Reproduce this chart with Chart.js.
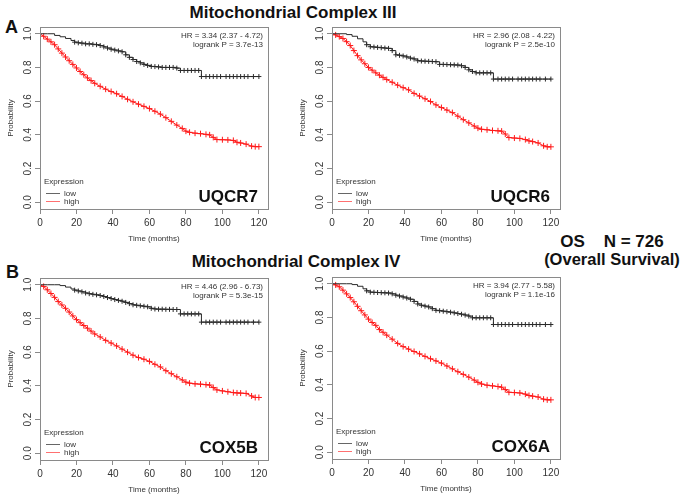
<!DOCTYPE html>
<html>
<head>
<meta charset="utf-8">
<script src="https://cdn.jsdelivr.net/npm/chart.js@4.4.0/dist/chart.umd.min.js"></script>
<style>
  body { margin: 0; background: #fff; font-family: 'Liberation Sans', Arial, sans-serif; }
  #page { position: relative; width: 680px; height: 495px; overflow: hidden; background: #fff; }
  .panel { position: absolute; width: 281px; height: 237px; }
  .txt { position: absolute; font-weight: bold; color: #111; line-height: 1; white-space: pre; }
</style>
</head>
<body>
<div id="page">
  <div class="txt" style="left:0;width:586px;text-align:center;top:4px;font-size:17px;">Mitochondrial Complex III</div>
  <div class="txt" style="left:5px;top:18px;font-size:18px;">A</div>
  <div class="txt" style="left:0;width:592px;text-align:center;top:253px;font-size:17px;">Mitochondrial Complex IV</div>
  <div class="txt" style="left:6px;top:263px;font-size:18px;">B</div>
  <div class="txt" style="left:540px;width:144px;text-align:center;top:233px;font-size:17px;">OS    N = 726</div>
  <div class="txt" style="left:540px;width:144px;text-align:center;top:251px;font-size:16.5px;">(Overall Survival)</div>

  <div class="panel" style="left:-5px;top:17px;"><canvas id="km1" width="281" height="237"></canvas></div>
  <div class="panel" style="left:287px;top:17px;"><canvas id="km2" width="281" height="237"></canvas></div>
  <div class="panel" style="left:-5px;top:268px;"><canvas id="km3" width="281" height="237"></canvas></div>
  <div class="panel" style="left:287px;top:267px;"><canvas id="km4" width="281" height="237"></canvas></div>
</div>
<script>
// axis ticks
const TIME_TICKS = [0, 20, 40, 60, 80, 100, 120];
const PROB_TICKS = [0, 0.2, 0.4, 0.6, 0.8, 1.0];

// panel labels
const GENES = ['UQCR7', 'UQCR6', 'COX5B', 'COX6A'];
const HR_LABELS = ['HR = 3.34 (2.37 - 4.72)', 'HR = 2.96 (2.08 - 4.22)', 'HR = 4.46 (2.96 - 6.73)', 'HR = 3.94 (2.77 - 5.58)'];
const LOGRANK_LABELS = ['logrank P = 3.7e-13', 'logrank P = 2.5e-10', 'logrank P = 5.3e-15', 'logrank P = 1.1e-16'];
const GROUPS = ['low', 'high'];

// time points (months)
const LOW_TIMES = [0, 4, 8, 11, 14, 17, 19, 21, 23, 25, 27, 29, 31, 33, 35, 37, 39, 41, 43, 45, 47, 49, 51, 53, 55, 57, 59, 61, 63, 65, 67, 69, 71, 73, 75, 77, 79, 81, 83, 85, 87, 88.5, 91, 93, 95, 97, 99, 102, 104, 106, 108, 110, 112, 114, 117, 120];
const HIGH_TIMES = [0, 2, 4, 6, 8, 10, 12, 14, 16, 18, 20, 22, 24, 26, 28, 30, 33, 36, 39, 42, 45, 48, 51, 54, 57, 60, 63, 66, 69, 72, 75, 78, 80, 82, 85, 88, 91, 93, 95, 97, 100, 103, 106, 108, 110, 113, 116, 118, 120];

// survival probability, low expression
const UQCR7_LOW = [1.0, 1.0, 0.99, 0.982, 0.972, 0.96, 0.95,
  0.946, 0.944, 0.94, 0.94, 0.937, 0.935, 0.93, 0.922, 0.915, 0.908, 0.903, 0.898, 0.893, 0.875, 0.86, 0.847, 0.835, 0.827, 0.818, 0.812, 0.806, 0.805, 0.803, 0.80, 0.80, 0.80, 0.80, 0.796, 0.782, 0.782, 0.782, 0.782, 0.782, 0.782,
  0.746, 0.746, 0.746, 0.746, 0.746, 0.746, 0.746, 0.746, 0.746, 0.746, 0.746, 0.746, 0.746, 0.746, 0.746];
const UQCR6_LOW = [1.0, 1.0, 0.995, 0.985, 0.97, 0.952, 0.935,
  0.923, 0.921, 0.919, 0.917, 0.915, 0.913, 0.9, 0.875, 0.872, 0.868, 0.862, 0.855, 0.85, 0.84, 0.838, 0.837, 0.836, 0.835, 0.834, 0.818, 0.818, 0.817, 0.816, 0.815, 0.814, 0.81, 0.8, 0.786, 0.776, 0.768, 0.768, 0.768, 0.768, 0.768,
  0.731, 0.731, 0.731, 0.731, 0.731, 0.731, 0.731, 0.731, 0.731, 0.731, 0.731, 0.731, 0.731, 0.731, 0.731];
const COX5B_LOW = [1.0, 1.0, 1.0, 0.995, 0.986, 0.975, 0.968,
  0.963, 0.958, 0.951, 0.947, 0.943, 0.94, 0.936, 0.93, 0.924, 0.918, 0.912, 0.907, 0.902, 0.895, 0.888, 0.881, 0.878, 0.875, 0.872, 0.869, 0.86, 0.856, 0.855, 0.855, 0.854, 0.854, 0.853, 0.853, 0.827, 0.827, 0.827, 0.827, 0.827, 0.827,
  0.778, 0.778, 0.778, 0.778, 0.778, 0.778, 0.778, 0.778, 0.778, 0.778, 0.778, 0.778, 0.778, 0.778, 0.778];
const COX6A_LOW = [1.0, 1.0, 1.0, 0.995, 0.985, 0.97, 0.958,
  0.95, 0.949, 0.948, 0.947, 0.946, 0.945, 0.94, 0.932, 0.927, 0.921, 0.915, 0.908, 0.895, 0.88, 0.872, 0.867, 0.862, 0.852, 0.842, 0.84, 0.837, 0.834, 0.831, 0.827, 0.823, 0.819, 0.814, 0.808, 0.798, 0.798, 0.798, 0.798, 0.798, 0.798,
  0.758, 0.758, 0.758, 0.758, 0.758, 0.758, 0.758, 0.758, 0.758, 0.758, 0.758, 0.758, 0.758, 0.758, 0.758];

// survival probability, high expression
const UQCR7_HIGH = [1.0, 0.985, 0.968, 0.952, 0.935, 0.91, 0.885, 0.862, 0.84, 0.818, 0.797, 0.776, 0.757, 0.738, 0.722, 0.706,
  0.688, 0.671, 0.657, 0.644, 0.628, 0.611, 0.596, 0.582, 0.569, 0.556, 0.54, 0.523, 0.502, 0.48, 0.458, 0.438,
  0.422, 0.415, 0.41, 0.407, 0.403, 0.4, 0.385, 0.372, 0.371, 0.37, 0.367, 0.356, 0.352, 0.345, 0.333, 0.33, 0.33];
const UQCR6_HIGH = [1.0, 0.993, 0.983, 0.972, 0.953, 0.93, 0.9, 0.87, 0.845, 0.822, 0.8, 0.784, 0.768, 0.754, 0.741, 0.728,
  0.712, 0.695, 0.68, 0.667, 0.646, 0.63, 0.614, 0.598, 0.578, 0.562, 0.547, 0.532, 0.511, 0.49, 0.471, 0.452,
  0.44, 0.433, 0.43, 0.426, 0.424, 0.422, 0.405, 0.384, 0.381, 0.379, 0.372, 0.364, 0.36, 0.352, 0.335, 0.329, 0.329];
const COX5B_HIGH = [1.0, 0.99, 0.97, 0.948, 0.925, 0.9, 0.88, 0.86, 0.838, 0.815, 0.793, 0.775, 0.758, 0.742, 0.725, 0.708,
  0.69, 0.67, 0.654, 0.637, 0.618, 0.6, 0.582, 0.568, 0.558, 0.545, 0.528, 0.512, 0.49, 0.472, 0.454, 0.435,
  0.422, 0.416, 0.412, 0.41, 0.407, 0.405, 0.39, 0.376, 0.37, 0.365, 0.36, 0.358, 0.357, 0.355, 0.34, 0.331, 0.331];
const COX6A_HIGH = [1.0, 0.993, 0.982, 0.962, 0.94, 0.918, 0.893, 0.866, 0.84, 0.815, 0.79, 0.77, 0.753, 0.728, 0.712, 0.695,
  0.671, 0.646, 0.627, 0.612, 0.598, 0.584, 0.569, 0.555, 0.542, 0.529, 0.512, 0.495, 0.478, 0.462, 0.446, 0.428,
  0.415, 0.405, 0.398, 0.394, 0.39, 0.386, 0.372, 0.356, 0.354, 0.352, 0.345, 0.337, 0.333, 0.328, 0.315, 0.311, 0.311];

const LOW_COLOR = '#2b2b2b';
const HIGH_COLOR = '#ff1a1a';
const LEGEND_COLORS = ['#666666', '#ff7070'];
const FONT = "'Liberation Sans', Arial, sans-serif";
const CENSOR_FROM = 19;

function kmDecor(idx) {
    return {
        id: 'kmDecor' + idx,
        afterDraw(chart) {
            const ctx = chart.ctx;
            const a = chart.chartArea;
            const yScale = chart.scales.y;
            ctx.save();

            // box around the plot
            ctx.strokeStyle = '#8a8a8a';
            ctx.lineWidth = 1;
            ctx.strokeRect(Math.round(a.left) + 0.5, Math.round(a.top) + 0.5, Math.round(a.right - a.left), Math.round(a.bottom - a.top));

            // y tick labels, rotated like R
            ctx.fillStyle = '#333';
            ctx.font = '10px ' + FONT;
            ctx.textAlign = 'center';
            ctx.textBaseline = 'middle';
            PROB_TICKS.forEach(v => {
                ctx.save();
                ctx.translate(a.left - 12, yScale.getPixelForValue(v));
                ctx.rotate(-Math.PI / 2);
                ctx.fillText(v.toFixed(1), 0, 0);
                ctx.restore();
            });

            // axis titles
            ctx.font = '8px ' + FONT;
            ctx.save();
            ctx.translate(a.left - 29, (a.top + a.bottom) / 2);
            ctx.rotate(-Math.PI / 2);
            ctx.fillText('Probability', 0, 0);
            ctx.restore();
            ctx.fillText('Time (months)', (a.left + a.right) / 2, a.bottom + 30);

            // HR / logrank
            ctx.textAlign = 'right';
            ctx.fillText(HR_LABELS[idx], a.right - 5, a.top + 9);
            ctx.fillText(LOGRANK_LABELS[idx], a.right - 5, a.top + 18);

            // legend
            ctx.textAlign = 'left';
            ctx.fillText('Expression', a.left + 4, a.bottom - 27);
            LEGEND_COLORS.forEach((c, i) => {
                const y = Math.round(a.bottom - 16 + i * 8) + 0.5;
                ctx.strokeStyle = c;
                ctx.beginPath();
                ctx.moveTo(a.left + 6, y);
                ctx.lineTo(a.left + 20, y);
                ctx.stroke();
                ctx.fillText(GROUPS[i], a.left + 24, y);
            });

            // gene name
            ctx.fillStyle = '#111';
            ctx.font = 'bold 17px ' + FONT;
            ctx.textAlign = 'right';
            ctx.textBaseline = 'alphabetic';
            ctx.fillText(GENES[idx], a.right - 10, a.bottom - 7);
            ctx.restore();
        }
    };
}

function makeKm(canvasId, idx, lowVals, highVals) {
    const lowData = LOW_TIMES.map((t, i) => ({ x: t, y: lowVals[i] }));
    const highData = HIGH_TIMES.map((t, i) => ({ x: t, y: highVals[i] }));

    new Chart(document.getElementById(canvasId), {
        type: 'line',
        data: {
            datasets: [{
                label: GROUPS[0],
                data: lowData,
                stepped: true,
                borderColor: LOW_COLOR,
                borderWidth: 1,
                pointStyle: 'cross',
                pointRadius: LOW_TIMES.map(t => t >= CENSOR_FROM ? 2.5 : 0),
                pointBorderColor: LOW_COLOR,
                pointBorderWidth: 1
            }, {
                label: GROUPS[1],
                data: highData,
                borderColor: HIGH_COLOR,
                borderWidth: 1,
                tension: 0,
                pointStyle: 'cross',
                pointRadius: HIGH_TIMES.map(t => t > 0 ? 3 : 0),
                pointBorderColor: HIGH_COLOR,
                pointBorderWidth: 1
            }]
        },
        options: {
            responsive: false,
            animation: false,
            events: [],
            layout: { padding: { top: 10, right: 8, left: 0, bottom: 0 } },
            plugins: { legend: { display: false }, tooltip: { enabled: false } },
            scales: {
                x: {
                    type: 'linear',
                    min: 0,
                    max: 125,
                    afterBuildTicks: s => { s.ticks = TIME_TICKS.map(v => ({ value: v })); },
                    afterFit: s => { s.height = 45; },
                    grid: { drawOnChartArea: false, tickLength: 5, color: '#8a8a8a' },
                    border: { display: false },
                    ticks: { color: '#333', font: { family: FONT, size: 10 }, maxRotation: 0, padding: 3 }
                },
                y: {
                    min: -0.04,
                    max: 1.04,
                    afterBuildTicks: s => { s.ticks = PROB_TICKS.map(v => ({ value: v })); },
                    afterFit: s => { s.width = 45; },
                    grid: { drawOnChartArea: false, tickLength: 5, color: '#8a8a8a' },
                    border: { display: false },
                    ticks: { display: false }
                }
            }
        },
        plugins: [kmDecor(idx)]
    });
}

makeKm('km1', 0, UQCR7_LOW, UQCR7_HIGH);
makeKm('km2', 1, UQCR6_LOW, UQCR6_HIGH);
makeKm('km3', 2, COX5B_LOW, COX5B_HIGH);
makeKm('km4', 3, COX6A_LOW, COX6A_HIGH);
</script>
</body>
</html>
